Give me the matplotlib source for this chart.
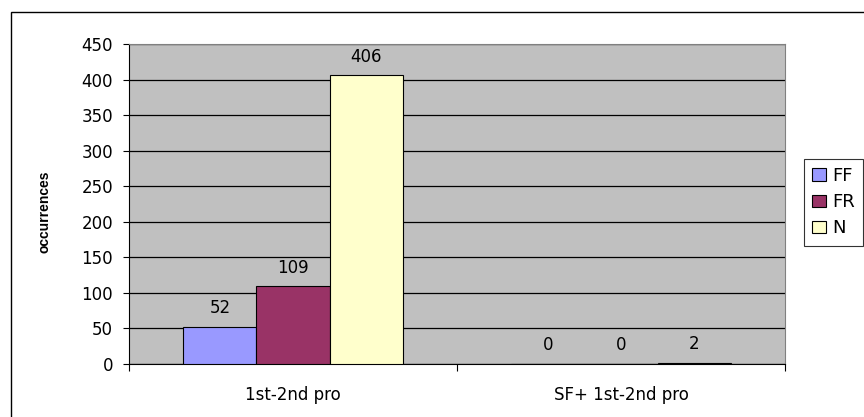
import matplotlib.pyplot as plt
import numpy as np
from matplotlib.patches import Rectangle

plt.rcParams['font.family'] = ['DejaVu Sans']

categories = ['1st-2nd pro', 'SF+ 1st-2nd pro']
series = ['FF', 'FR', 'N']
ff = [52, 0]
fr = [109, 0]
n = [406, 2]
colors = ['#9999FF', '#993366', '#FFFFCC']

fig = plt.figure(figsize=(8.64, 4.17), dpi=100)
ax = fig.add_axes([129 / 864, 1 - 364 / 417, 656 / 864, 320 / 417])
ax.set_facecolor('#C0C0C0')

x = np.arange(len(categories))
w = 0.223
for i, (vals, name, c) in enumerate(zip([ff, fr, n], series, colors)):
    bars = ax.bar(x + (i - 1) * w, vals, w, color=c, edgecolor='black',
                  linewidth=0.8, label=name, zorder=3)
    for b, v in zip(bars, vals):
        ax.annotate(str(v), (b.get_x() + b.get_width() / 2, v),
                    xytext=(0, 7), textcoords='offset points',
                    ha='center', va='bottom', fontsize=12)

ax.set_xlim(-0.5, 1.5)
ax.set_ylim(0, 450)
ax.set_yticks(range(0, 451, 50))
ax.yaxis.grid(True, color='black', linewidth=0.9, zorder=0)
ax.set_axisbelow(True)
ax.set_xticks([-0.5, 0.5, 1.5])
ax.set_xticklabels([])
ax.set_xticks(x, minor=True)
ax.set_xticklabels(categories, minor=True, fontsize=12)
ax.tick_params(axis='x', which='minor', length=0, pad=16)
ax.tick_params(axis='x', which='major', length=5, direction='out')
ax.tick_params(axis='y', length=4.5, labelsize=12, pad=7)

for s in ['top', 'right']:
    ax.spines[s].set_color('#808080')
ax.spines['left'].set_color('black')
ax.spines['bottom'].set_color('black')

ax.set_ylabel('occurrences', fontsize=10, fontweight='bold',
              family=['Liberation Sans'])
ax.yaxis.set_label_coords(-0.118, 0.475)

leg = ax.legend(loc='upper left', bbox_to_anchor=(804 / 864, 1 - 159 / 417),
                bbox_transform=fig.transFigure, frameon=True, fancybox=False,
                edgecolor='black', fontsize=13, handlelength=0.75,
                handleheight=0.7, handletextpad=0.35, borderpad=0.45,
                labelspacing=0.45, borderaxespad=0)
leg.get_frame().set_linewidth(0.8)

fig.patches.append(Rectangle((11 / 864, -0.1), 1.0, 1 - 12 / 417 + 0.1,
                             transform=fig.transFigure, fill=False,
                             edgecolor='black', linewidth=1))

fig.savefig('out.png', dpi=100)
